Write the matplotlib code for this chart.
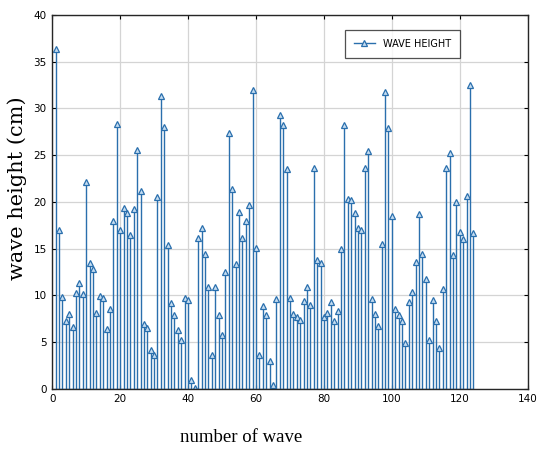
import numpy as np
import matplotlib
matplotlib.use("Agg")
import matplotlib.pyplot as plt
from matplotlib.legend_handler import HandlerLine2D
from matplotlib.lines import Line2D

# wave heights (cm), one per wave
wave_height = [
    36.3, 17.0, 9.8, 7.3, 8.0, 6.6, 10.2, 11.3, 10.1, 22.1,
    13.5, 12.8, 8.1, 9.9, 9.7, 6.4, 8.5, 18.0, 28.3, 17.0,
    19.3, 18.8, 16.4, 19.2, 25.5, 21.2, 6.9, 6.5, 4.2, 3.6,
    20.5, 31.3, 28.0, 15.4, 9.2, 7.9, 6.3, 5.2, 9.7, 9.5,
    0.9, 0.1, 16.1, 17.2, 14.4, 10.9, 3.6, 10.9, 7.9, 5.8,
    12.5, 27.4, 21.4, 13.4, 18.9, 16.1, 18.0, 19.7, 32.0, 15.1,
    3.6, 8.9, 7.9, 3.0, 0.4, 9.6, 29.3, 28.2, 23.5, 9.7,
    8.0, 7.7, 7.4, 9.4, 10.9, 9.0, 23.6, 13.8, 13.5, 7.7,
    8.1, 9.3, 7.3, 8.3, 15.0, 28.2, 20.3, 20.2, 18.8, 17.2,
    17.0, 23.6, 25.4, 9.6, 8.0, 6.7, 15.5, 31.7, 27.9, 18.5,
    8.5, 7.9, 7.3, 4.9, 9.3, 10.4, 13.6, 18.7, 14.4, 11.7,
    5.2, 9.5, 7.3, 4.4, 10.7, 23.6, 25.2, 14.3, 20.0, 16.8,
    16.0, 20.6, 32.5, 16.7,
]
wave_number = np.arange(1, len(wave_height) + 1)

x_ticks = [0, 20, 40, 60, 80, 100, 120, 140]
y_ticks = [0, 5, 10, 15, 20, 25, 30, 35, 40]

stem_color = "#2a6fad"
marker_face = "#c6ddf1"


class MarkerAtEnd(HandlerLine2D):
    # legend entry: line with the triangle sitting at its right end
    def get_xdata(self, legend, xdescent, ydescent, width, height, fontsize):
        xdata = np.array([-xdescent, -xdescent + width])
        return xdata, np.array([-xdescent + width * 0.92])


fig = plt.figure(figsize=(5.38, 4.49), dpi=100)
ax = fig.add_axes([0.097, 0.134, 0.884, 0.833])

markers, stems, base = ax.stem(wave_number, wave_height)
plt.setp(stems, color=stem_color, linewidth=1.0)
plt.setp(markers, marker="^", markersize=4.5, color=stem_color,
         markerfacecolor=marker_face, markeredgewidth=0.9, linestyle="none")
plt.setp(base, color=stem_color, linewidth=1.0)

ax.set_xlim(0, 140)
ax.set_ylim(0, 40)
ax.set_xticks(x_ticks)
ax.set_yticks(y_ticks)
ax.tick_params(direction="in", top=True, right=True, labelsize=7.5, length=3,
               width=0.8, pad=4)
ax.grid(True, color="#d4d4d4", linewidth=0.9)
ax.set_axisbelow(True)
for sp in ax.spines.values():
    sp.set_color("#262626")
    sp.set_linewidth(1.0)

ax.set_xlabel("number of wave", family="Liberation Serif", fontsize=13.5)
ax.xaxis.set_label_coords(0.397, -0.108)
ax.set_ylabel("wave height (cm)", family="DejaVu Serif", fontsize=15)
ax.yaxis.set_label_coords(-0.052, 0.537)

proxy = Line2D([], [], color=stem_color, linewidth=1.0, marker="^", markersize=4.5,
               markerfacecolor=marker_face, markeredgewidth=0.9)
leg = ax.legend([proxy], ["WAVE HEIGHT"], loc="upper right",
                bbox_to_anchor=(0.867, 0.972), fontsize=7, frameon=True,
                fancybox=False, handlelength=2.2, borderpad=0.9,
                handler_map={Line2D: MarkerAtEnd(numpoints=1)})
leg.get_frame().set_edgecolor("#262626")
leg.get_frame().set_linewidth(0.9)

fig.savefig("out.png", dpi=100)
